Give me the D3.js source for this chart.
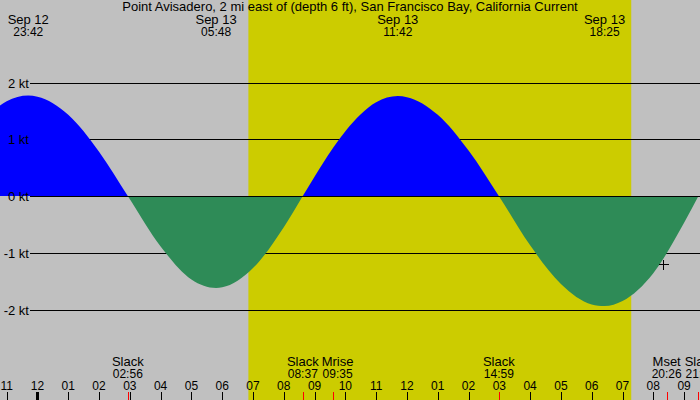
<!DOCTYPE html>
<html>
<head>
<meta charset="utf-8">
<script src="https://cdn.jsdelivr.net/npm/d3@7"></script>
<style>
	body { margin: 0; background: #c0c0c0; }
	svg { display: block; }
	text { font-family: "Liberation Sans", Arial, sans-serif; font-size: 13px; fill: #000; }
	text.num { font-size: 12px; }
</style>
</head>
<body>
<svg id="chart" width="700" height="400"></svg>
<script>
/**
 * Data.
 */
var title = "Point Avisadero, 2 mi east of (depth 6 ft), San Francisco Bay, California Current";
var viewStart = "2024-09-12 22:47"; // left edge of the plot
var viewEnd = "2024-09-13 21:31"; // right edge of the plot
var sunRise = "2024-09-13 06:51";
var sunSet = "2024-09-13 19:17";

// current speed (kt), flood positive, ebb negative
var flowTimes = [
	"2024-09-12 22:45", "2024-09-12 23:00", "2024-09-12 23:42",
	"2024-09-13 00:00", "2024-09-13 01:00", "2024-09-13 02:00", "2024-09-13 02:56",
	"2024-09-13 04:00", "2024-09-13 05:00", "2024-09-13 05:48",
	"2024-09-13 06:00", "2024-09-13 07:00", "2024-09-13 08:00", "2024-09-13 08:37",
	"2024-09-13 09:15", "2024-09-13 10:00", "2024-09-13 11:00", "2024-09-13 11:42",
	"2024-09-13 12:00", "2024-09-13 13:00", "2024-09-13 14:00", "2024-09-13 14:59",
	"2024-09-13 16:00", "2024-09-13 17:00", "2024-09-13 18:00",
	"2024-09-13 18:25", "2024-09-13 19:00", "2024-09-13 20:00", "2024-09-13 21:00",
	"2024-09-13 21:28"
];
var flowValues = [
	1.58, 1.67, 1.77,
	1.75, 1.43, 0.78, 0,
	-0.89, -1.47, -1.62,
	-1.61, -1.27, -0.55, 0,
	0.56, 1.14, 1.65, 1.76,
	1.74, 1.43, 0.80, 0,
	-0.87, -1.55, -1.91,
	-1.94, -1.85, -1.36, -0.47,
	0
];

// max flood / max ebb times shown in the header
var peakTimes = ["2024-09-12 23:42", "2024-09-13 05:48", "2024-09-13 11:42", "2024-09-13 18:25"];

// slack water and moon events shown at the bottom
var eventNames = ["Slack", "Slack", "Mrise", "Slack", "Mset", "Slack"];
var eventTimes = ["2024-09-13 02:56", "2024-09-13 08:37", "2024-09-13 09:35",
	"2024-09-13 14:59", "2024-09-13 20:26", "2024-09-13 21:28"];

var speedTicks = [2, 1, 0, -1, -2];

// "now" marker
var markTime = "2024-09-13 20:18";
var markValue = -1.19;

{
	var width = 700,
		height = 400;
	var parse = d3.timeParse("%Y-%m-%d %H:%M");
	var fmtDay = d3.timeFormat("%b %d"),
		fmtTime = d3.timeFormat("%H:%M"),
		fmtHour = d3.timeFormat("%I");

	var x = d3.scaleTime()
		.domain([parse(viewStart), parse(viewEnd)])
		.range([0, width]);
	var y = d3.scaleLinear()
		.domain([-2, 2])
		.range([309.5, 82.5]);

	var flow = flowTimes.map(function (t, i) {
		return { t: parse(t), v: flowValues[i] };
	});

	var svg = d3.select("#chart");

	// night / day background
	svg.append("rect")
		.attr("width", width)
		.attr("height", height)
		.attr("fill", "#c0c0c0");
	svg.append("rect")
		.attr("x", x(parse(sunRise)))
		.attr("width", x(parse(sunSet)) - x(parse(sunRise)))
		.attr("height", height)
		.attr("fill", "#cccc00");

	// speed grid lines
	svg.selectAll(".grid")
		.data(speedTicks)
		.enter().append("line")
		.attr("class", "grid")
		.attr("x1", 30)
		.attr("x2", width)
		.attr("y1", function (d) { return Math.round(y(d)) + 0.5; })
		.attr("y2", function (d) { return Math.round(y(d)) + 0.5; })
		.attr("stroke", "#000")
		.attr("shape-rendering", "crispEdges");

	// flood (blue) above zero, ebb (green) below
	var zeroY = Math.round(y(0));
	var defs = svg.append("defs");
	defs.append("clipPath").attr("id", "clip-flood")
		.append("rect").attr("width", width).attr("height", zeroY);
	defs.append("clipPath").attr("id", "clip-ebb")
		.append("rect").attr("y", zeroY + 1).attr("width", width).attr("height", height - zeroY);

	var area = d3.area()
		.curve(d3.curveMonotoneX)
		.x(function (d) { return x(d.t); })
		.y0(y(0))
		.y1(function (d) { return y(d.v); });

	svg.append("path")
		.datum(flow)
		.attr("d", area)
		.attr("fill", "#0000ff")
		.attr("clip-path", "url(#clip-flood)");
	svg.append("path")
		.datum(flow)
		.attr("d", area)
		.attr("fill", "#2e8b57")
		.attr("clip-path", "url(#clip-ebb)");

	// speed labels
	svg.selectAll(".speed-label")
		.data(speedTicks)
		.enter().append("text")
		.attr("class", "speed-label")
		.attr("x", 29)
		.attr("y", function (d) { return Math.round(y(d)) + 4.5; })
		.attr("text-anchor", "end")
		.text(function (d) { return d + " kt"; });

	// now marker
	var mx = Math.round(x(parse(markTime))) + 0.5,
		my = Math.round(y(markValue)) + 0.5;
	svg.append("path")
		.attr("d", "M" + (mx - 5) + "," + my + "H" + (mx + 5) + "M" + mx + "," + (my - 5) + "V" + (my + 5))
		.attr("stroke", "#000")
		.attr("shape-rendering", "crispEdges");

	// title
	svg.append("text")
		.attr("x", width / 2)
		.attr("y", 11)
		.attr("text-anchor", "middle")
		.text(title);

	// header: peak times
	var peaks = svg.selectAll(".peak")
		.data(peakTimes.map(parse))
		.enter().append("g")
		.attr("class", "peak")
		.attr("transform", function (d) { return "translate(" + x(d) + ",0)"; });
	peaks.append("text")
		.attr("y", 23.5)
		.attr("text-anchor", "middle")
		.text(function (d) { return fmtDay(d); });
	peaks.append("text")
		.attr("class", "num")
		.attr("y", 36)
		.attr("text-anchor", "middle")
		.text(function (d) { return fmtTime(d); });

	// bottom: events, centred on the event, pushed right when they would collide
	var events = svg.selectAll(".event")
		.data(eventTimes.map(function (t, i) { return { t: parse(t), name: eventNames[i] }; }))
		.enter().append("g")
		.attr("class", "event");
	var evName = events.append("text")
		.attr("y", 366)
		.attr("text-anchor", "middle")
		.text(function (d) { return d.name; });
	var evTime = events.append("text")
		.attr("class", "num")
		.attr("y", 378)
		.attr("text-anchor", "middle")
		.text(function (d) { return fmtTime(d.t); });
	var prevRight = -Infinity;
	events.each(function (d, i) {
		var w = Math.max(evName.nodes()[i].getComputedTextLength(), evTime.nodes()[i].getComputedTextLength());
		var left = Math.max(x(d.t) - w / 2, prevRight + 3);
		prevRight = left + w;
		d3.select(this).attr("transform", "translate(" + (left + w / 2) + ",0)");
	});

	// hour ticks
	var hours = d3.timeHour.range(x.domain()[0], x.domain()[1]);
	svg.selectAll(".hour-label")
		.data(hours)
		.enter().append("text")
		.attr("class", "hour-label num")
		.attr("x", function (d) { return x(d); })
		.attr("y", 390)
		.attr("text-anchor", "middle")
		.text(function (d) { return fmtHour(d); });
	svg.selectAll(".hour-tick")
		.data(hours)
		.enter().append("line")
		.attr("class", "hour-tick")
		.attr("x1", function (d) { return Math.round(x(d)) + 0.5; })
		.attr("x2", function (d) { return Math.round(x(d)) + 0.5; })
		.attr("y1", 392)
		.attr("y2", height)
		.attr("stroke", "#000")
		.attr("stroke-width", function (d) { return d.getHours() == 0 ? 3 : 1; })
		.attr("shape-rendering", "crispEdges");

	// event ticks
	svg.selectAll(".event-tick")
		.data(eventTimes.map(parse))
		.enter().append("line")
		.attr("class", "event-tick")
		.attr("x1", function (d) { return Math.round(x(d)) + 0.5; })
		.attr("x2", function (d) { return Math.round(x(d)) + 0.5; })
		.attr("y1", 392)
		.attr("y2", height)
		.attr("stroke", "#ff0000")
		.attr("shape-rendering", "crispEdges");
}
</script>
</body>
</html>
